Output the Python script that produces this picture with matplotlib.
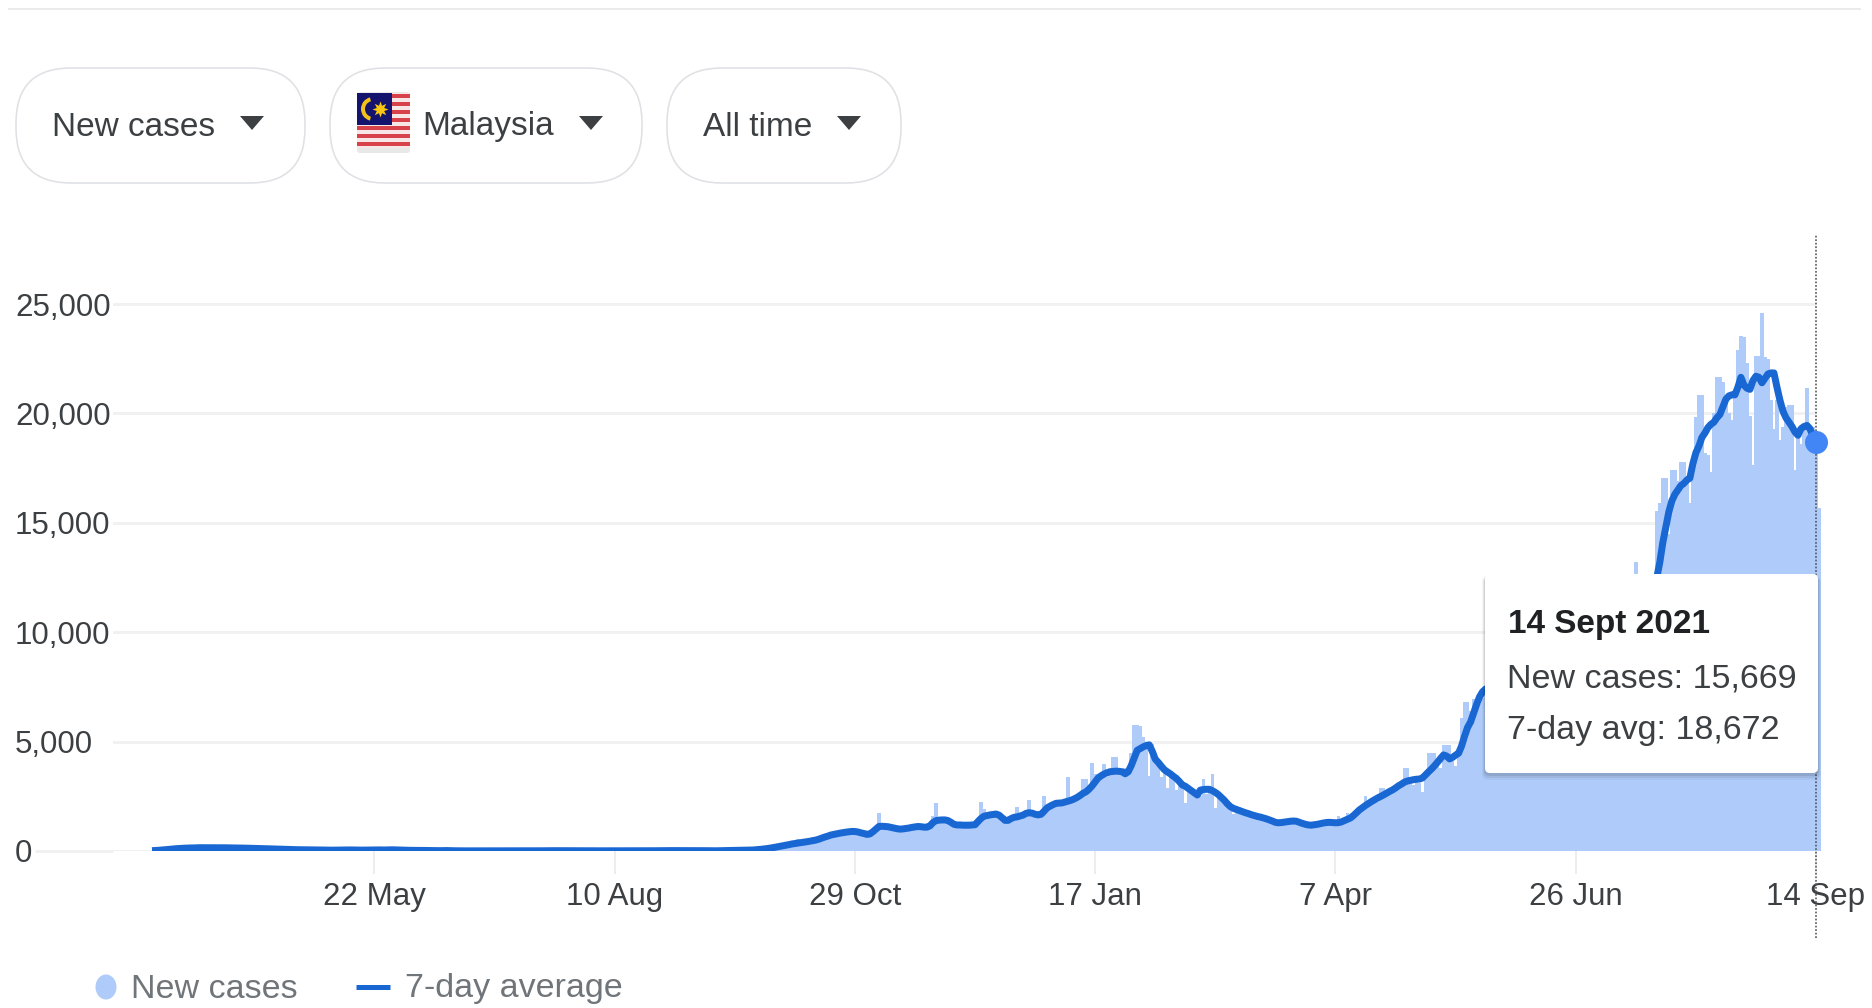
import matplotlib
matplotlib.use("Agg")
import matplotlib.pyplot as plt
from matplotlib.patches import FancyBboxPatch, Rectangle, Wedge, Ellipse, Polygon
import numpy as np

FONT = "Liberation Sans"
plt.rcParams["font.family"] = [FONT, "DejaVu Sans"]

# ---------- data, one list per stretch of days ----------
avg_a = [15,20,30,40,55,65,80,95,105,115, 125,130,135,140,145,148,150,150,150,150,
 150,150,148,148,145,145,143,140,140,138, 135,130,125,122,118,115,112,108,105,100,
 95,90,85,80,75,70,68,62,60,58, 55,52,50,48,45,42,40,40,38,38,
 38,40,45,48,50,50,48,45,42,40, 40,42,45,48,50,55,50,45,50,55,
 55,50,45,40,35,35,30,30,28,25, 25,25,20,20,18,15,15,18,20,15]
avg_b = [12,10,8,8,8,6,6,5,5,5, 5,5,5,5,4,4,4,4,5,5,
 5,5,5,5,5,6,6,8,8,10, 10,12,12,14,14,14,14,14,15,15,
 15,14,14,12,12,10,10,8,8,8, 8,8,10,12,12,12,10,10,8,8,
 8,8,8,8,8,10,10,12,12,14, 16,16,18,18,18,20,22,22,22,22,
 22,20,18,16,14,12,10,10,10,12, 15,20,22,25,28,30,35,40,42,45]
avg_c = [45,55,65,80,95,115,135,160,185,210, 240,265,290,320,340,360,385,400,420,445,
 470,500,540,590,640,680,730,760,790,815, 840,860,880,895,890,870,830,800,760,780,
 880,1000,1120,1130,1120,1110,1080,1050,1020,1000, 1010,1030,1050,1080,1100,1120,1110,1090,1090,1150,
 1300,1390,1410,1420,1420,1390,1310,1220,1190,1190, 1180,1180,1180,1190,1200,1350,1490,1590,1620,1650,
 1670,1690,1640,1520,1400,1400,1480,1540,1560,1600, 1640,1720,1750,1730,1680,1650,1680,1820,1970,2050]
avg_d = [2120,2180,2190,2200,2240,2280,2320,2380,2450,2540, 2640,2710,2830,2980,3160,3340,3440,3520,3580,3625,
 3640,3650,3640,3620,3530,3620,3900,4250,4600,4680, 4760,4820,4850,4560,4200,4050,3880,3720,3620,3530,
 3420,3320,3180,3020,2960,2860,2760,2660,2560,2780, 2810,2820,2820,2760,2680,2580,2450,2320,2160,2030,
 1950,1900,1850,1800,1750,1710,1660,1620,1580,1550, 1510,1470,1420,1370,1310,1290,1300,1320,1340,1360,
 1370,1360,1310,1260,1220,1190,1180,1200,1220,1250, 1280,1300,1310,1300,1290,1295,1330,1390,1450,1510]
avg_e = [1620,1750,1880,1980,2080,2170,2260,2340,2420,2490, 2560,2640,2720,2790,2880,2980,3060,3150,3200,3230,
 3260,3280,3290,3340,3480,3620,3750,3900,4060,4230, 4390,4340,4210,4280,4380,4470,4800,5250,5650,5900,
 6300,6700,7050,7280,7400,7480,7550,7600,7700,7800, 7900,8000,8050,8100,8100,8050,8000,7900,7800,7600,
 7400,7200,7000,6800,6600,6400,6200,6000,5800,5700, 5600,5500,5500,5450,5400,5450,5500,5600,5700,5800,
 6000,6200,6400,6600,6800,7000,7300,7600,8000,8400, 8800,9200,9600,10000,10400,10800,11100,11400,11600,11900]
avg_f = [12300,12500,13200,14100,14800,15500,16000,16300,16500,16700, 16800,16950,17040,17700,18200,18500,18900,19100,19350,19500,
 19600,19800,19950,20300,20650,20800,20850,20850,21200,21650, 21300,21150,21100,21500,21700,21650,21400,21600,21800,21850,
 21850,21200,20600,20100,19800,19600,19400,19150,19000,19300, 19400,19450,19300,18950,18672]

new_a = [4,7,18,19,29,190,125,120,110,130, 153,123,212,106,172,235,130,159,150,140,
 208,140,156,123,142,150,179,170,156,109, 118,184,153,170,109,118,170,85,110,69,
 54,84,36,57,50,71,88,51,38,40, 31,94,55,122,30,55,36,39,70,16,
 37,22,41,78,61,40,24,57,48,20, 47,52,30,48,60,37,78,31,120,60,
 48,60,26,57,103,38,19,20,93,38, 37,19,7,15,8,19,7,10,21,22]
new_b = [31,19,15,4,3,6,3,3,3,1, 8,3,2,3,4,5,13,5,3,10,
 3,5,6,7,1,5,9,3,5,10, 5,23,25,12,23,21,7,14,19,13,
 18,15,20,14,19,6,7,7,5,9, 7,4,25,19,9,7,16,14,5,3,
 6,10,9,6,6,11,9,10,14,20, 6,26,23,10,24,19,36,20,26,5,
 8,29,8,7,15,13,11,5,9,16, 23,11,26,95,21,52,20,24,19,57]
new_c = [50,82,115,89,101,85,150,112,260,317, 267,293,374,354,561,278,353,489,276,660,
 540,520,590,710,660,690,730,800,810,820, 850,900,840,880,1000,930,820,800,780,760,
 900,1750,1150,1100,1050,1120,1080,1040,1000,980, 1010,1050,1100,1090,1120,1140,1100,1080,1300,1600,
 2190,1350,1400,1430,1420,1350,1250,1150,1180,1190, 1150,1180,1200,1190,1350,2240,1900,1620,1600,1640,
 1650,1700,1600,1480,1360,1400,1500,2030,1640,1590, 1680,2330,1720,1700,1650,1620,2510,2000,2050,2100]
new_d = [2100,2180,2150,2240,3400,2200,2400,2350,2400,3300, 3290,2700,4020,3500,3100,3300,3975,3400,3500,4290,
 4290,3600,3700,3800,3500,4500,5760,5760,5700,5220, 4800,3430,4900,4500,4000,3400,3900,2900,3600,3500,
 2790,3300,3200,2190,3000,2800,2700,2600,2500,3290, 2600,2800,3520,1960,2700,2500,2400,2300,2000,1700,
 2050,2000,1800,1700,1800,1650,1700,1600,1500,1450, 1530,1500,1400,1300,1350,1400,1350,1360,1400,1300,
 1350,1450,1200,1250,1100,1300,1150,1250,1350,1250, 1450,1300,1350,1400,1600,1250,1300,1750,1500,1550]
new_e = [1800,1850,2100,2510,2000,2150,2300,2250,2880,2880, 2500,2600,2700,2800,2900,3100,3790,3790,3150,3000,
 3200,3100,2700,3300,4480,4480,4480,3900,3800,4845, 4845,4845,4100,3900,4400,6080,6825,6825,6400,6950,
 6950,6700,7000,7300,7500,7300,7500,7800,8000,7800, 8200,8400,9000,8300,8000,7700,7100,7400,7000,7500,
 6800,6200,5800,5900,6300,5200,5000,5500,5300,5600, 5500,4900,5000,5800,5700,6000,5200,6200,6000,6300,
 6500,6700,7300,7600,8000,8800,8000,9300,9200,9100, 11000,11600,11700,13215,12500,11000,10900,12300,12500,12300]
new_f = [15550,15900,17040,17040,14500,17400,17400,16900,17790,17790, 16900,15900,17500,19850,20840,20840,18200,18100,17300,20000,
 21660,21660,21450,20700,20000,19700,20900,22900,23550,23500, 22300,19880,17640,22640,22640,24600,22600,22500,20600,19270,
 20600,18800,19400,20300,20380,20380,17400,19000,18600,19500, 21180,19400,19400,18880,15669]

new_cases = new_a + new_b + new_c + new_d + new_e + new_f
avg_7day = avg_a + avg_b + avg_c + avg_d + avg_e + avg_f
x_days = [74, 154, 234, 314, 394, 474, 554]
x_labels = ["22 May", "10 Aug", "29 Oct", "17 Jan", "7 Apr", "26 Jun", "14 Sep"]
y_ticks = [0, 5000, 10000, 15000, 20000, 25000]
y_labels = ["0", "5,000", "10,000", "15,000", "20,000", "25,000"]

W, H = 1872, 1008
fig = plt.figure(figsize=(W / 100, H / 100), dpi=100, facecolor="white")
PX = 72 / 100  # points per pixel

# ---------- chart ----------
L, R, T, B = 113, 1816, 234, 851
ax = fig.add_axes([L / W, 1 - B / H, (R - L) / W, (B - T) / H])
ax.set_xlim(-13, 554)
ax.set_ylim(0, 28200)
ax.patch.set_alpha(0)
for s in ax.spines.values():
    s.set_visible(False)
ax.set_axisbelow(True)
ax.grid(axis="y", color="#f1f1f1", lw=3 * PX)
ax.hlines(0, -39, -13, color="#f1f1f1", lw=3 * PX, clip_on=False)
ax.bar(np.arange(len(new_cases)) + 1, new_cases, width=1.15, color="#aecbfa", lw=0, clip_on=False, zorder=2)
ax.plot(np.arange(len(avg_7day)), avg_7day, color="#1967d2", lw=7 * PX, solid_joinstyle="round",
        solid_capstyle="butt", zorder=3)
ax.set_xticks(x_days, x_labels, color="#3c4043", fontsize=22.5)
ax.tick_params(axis="x", length=23 * PX, width=1.5 * PX, color="#e8e8e8", pad=8 * PX)
ax.set_yticks(y_ticks, y_labels, color="#3c4043", fontsize=22.5)
ax.tick_params(axis="y", length=0, pad=98 * PX)
for t in ax.get_yticklabels():
    t.set_ha("left")
ax.vlines(554, -3976, 28200, color="#555555", lw=1.6 * PX, linestyles=(0, (1.1, 1.1)), clip_on=False, zorder=5)
ax.plot([554], [18672], "o", color="#4285f4", ms=23 * PX, mew=0, clip_on=False, zorder=6)

# ---------- page furniture, in pixel coordinates ----------
ov = fig.add_axes([0, 0, 1, 1], zorder=10)
ov.set_xlim(0, W)
ov.set_ylim(H, 0)
ov.axis("off")
ov.patch.set_alpha(0)

ov.plot([9, 1860], [9, 9], color="#ebebeb", lw=2 * PX)

GREY = "#3c4043"
for (x0, x1), caret in [((16, 305), 252), ((330, 642), 591), ((667, 901), 849)]:
    ov.add_patch(FancyBboxPatch((x0 + 55, 68 + 55), x1 - x0 - 110, 5, boxstyle="round,pad=55,rounding_size=55",
                                fc="white", ec="#dfe1e5", lw=1.6 * PX))
    ov.add_patch(Polygon([(caret - 12, 116), (caret + 12, 116), (caret, 130)], fc=GREY, ec="none"))
for tx, label in [(52, "New cases"), (422, "Malaysia"), (703, "All time")]:
    ov.text(tx, 127, label, color=GREY, fontsize=24, ha="left", va="center")

# flag
ov.add_patch(FancyBboxPatch((357, 92), 53, 61, boxstyle="round,pad=0,rounding_size=3", fc="#e8e8e8", ec="none"))
ov.add_patch(Rectangle((357, 93), 53, 55, fc="#f6e6e6", ec="none"))
for k in range(7):
    ov.add_patch(Rectangle((357, 94 + k * 8.0), 53, 4, fc="#d8434b", ec="none"))
ov.add_patch(Rectangle((357, 93), 35, 32, fc="#14146e", ec="none"))
ov.add_patch(Wedge((373, 109), 12, 105, 255, width=4, fc="#f2c21a", ec="none"))
ov.plot([380], [109], marker=(8, 1, 0), color="#f9c80e", ms=16 * PX, mew=0)

# tooltip
for grow, alpha in [(6, 0.04), (4, 0.06), (2, 0.09)]:
    ov.add_patch(FancyBboxPatch((1485 - grow / 2, 575 + 1), 333 + grow, 198 + grow,
                                boxstyle="round,pad=0,rounding_size=6", fc="black", ec="none", alpha=alpha))
ov.add_patch(FancyBboxPatch((1485, 574), 333, 199, boxstyle="round,pad=0,rounding_size=5", fc="white", ec="none"))
ov.text(1508, 624, "14 Sept 2021", color="#202124", fontsize=24, fontweight="bold", ha="left", va="center")
ov.text(1507, 679, "New cases: 15,669", color=GREY, fontsize=24.5, ha="left", va="center")
ov.text(1507, 731, "7-day avg: 18,672", color=GREY, fontsize=24.5, ha="left", va="center")

# legend
LEG = "#70757a"
ov.add_patch(Ellipse((106, 987), 21, 25, fc="#aecbfa", ec="none"))
ov.text(131, 989, "New cases", color=LEG, fontsize=24.5, ha="left", va="center")
ov.plot([356, 390], [987, 987], color="#1967d2", lw=5 * PX, solid_capstyle="butt")
ov.text(405, 989, "7-day average", color=LEG, fontsize=24.5, ha="left", va="center")

fig.savefig("out.png", dpi=100, facecolor="white")
